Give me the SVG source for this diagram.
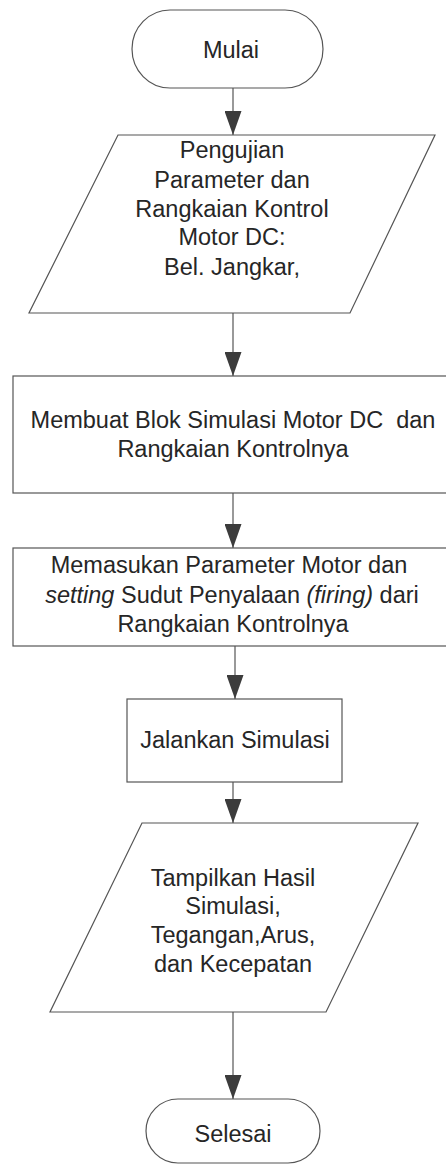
<svg xmlns="http://www.w3.org/2000/svg" width="446" height="1166" viewBox="0 0 446 1166">
<style>
.shape{fill:#fff;stroke:#555;stroke-width:1.2}
.t{font-family:"Liberation Sans",Arial,sans-serif;font-size:23.5px;fill:#262626;text-anchor:middle}
.conn{stroke:#555;stroke-width:1.2;fill:none;marker-end:url(#ah)}
</style>
<defs>
<marker id="ah" viewBox="0 0 24 17" refX="24" refY="8.5" markerWidth="24" markerHeight="17" markerUnits="userSpaceOnUse" orient="auto">
<path d="M0,0 L24,8.5 L0,17 z" fill="#3c3c3c"/>
</marker>
</defs>
<rect width="446" height="1166" fill="#fff"/>
<g id="connectors">
<line class="conn" x1="233" y1="88" x2="233" y2="135"/>
<line class="conn" x1="233" y1="313" x2="233" y2="376"/>
<line class="conn" x1="233" y1="493" x2="233" y2="548"/>
<line class="conn" x1="235" y1="646" x2="235" y2="699"/>
<line class="conn" x1="233" y1="782" x2="233" y2="823"/>
<line class="conn" x1="233" y1="1012" x2="233" y2="1099"/>
</g>
<g id="mulai">
<rect class="shape" x="132" y="10" width="191" height="78" rx="38" ry="39"/>
<text class="t" x="231" y="58">Mulai</text>
</g>
<g id="pengujian">
<polygon class="shape" points="118,135 435,135 350,313 29,313"/>
<text class="t" x="232" y="158">Pengujian</text>
<text class="t" x="232" y="188">Parameter dan</text>
<text class="t" x="232" y="217">Rangkaian Kontrol</text>
<text class="t" x="232" y="245">Motor DC:</text>
<text class="t" x="232" y="275">Bel. Jangkar,</text>
</g>
<g id="membuat">
<rect class="shape" x="13" y="376" width="440" height="117"/>
<text class="t" x="233" y="428" style="white-space:pre">Membuat Blok Simulasi Motor DC  dan</text>
<text class="t" x="233" y="457">Rangkaian Kontrolnya</text>
</g>
<g id="memasukan">
<rect class="shape" x="13" y="548" width="440" height="98"/>
<text class="t" x="229" y="573">Memasukan Parameter Motor dan</text>
<text class="t" x="232" y="603"><tspan font-style="italic">setting</tspan> Sudut Penyalaan <tspan font-style="italic">(firing)</tspan> dari</text>
<text class="t" x="233" y="632">Rangkaian Kontrolnya</text>
</g>
<g id="jalankan">
<rect class="shape" x="127" y="699" width="215" height="83"/>
<text class="t" x="235" y="748">Jalankan Simulasi</text>
</g>
<g id="tampilkan">
<polygon class="shape" points="142,823 418,823 326,1012 50,1012"/>
<text class="t" x="233" y="886">Tampilkan Hasil</text>
<text class="t" x="233" y="914">Simulasi,</text>
<text class="t" x="233" y="943">Tegangan,Arus,</text>
<text class="t" x="233" y="972">dan Kecepatan</text>
</g>
<g id="selesai">
<rect class="shape" x="146" y="1099" width="174" height="64" rx="32" ry="32"/>
<text class="t" x="233" y="1142">Selesai</text>
</g>
</svg>
